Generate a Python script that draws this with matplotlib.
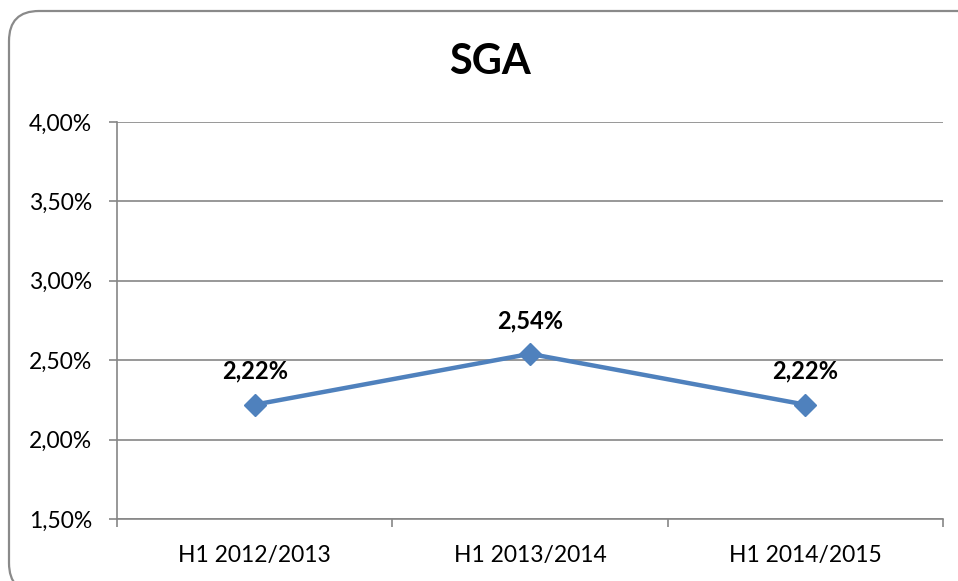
import matplotlib
matplotlib.use("Agg")
import matplotlib.pyplot as plt
from matplotlib.patches import FancyBboxPatch
from matplotlib.ticker import FuncFormatter, FixedLocator
from matplotlib.transforms import IdentityTransform

# chart data
periods = ["H1 2012/2013", "H1 2013/2014", "H1 2014/2015"]
sga = [2.22, 2.54, 2.22]
y_ticks = [1.5, 2.0, 2.5, 3.0, 3.5, 4.0]

plt.rcParams['font.family'] = ['Lato', 'DejaVu Sans']

GRID = '#868686'
LINE = '#4F81BD'


def pct(v, pos=None):
    return f"{v:.2f}%".replace('.', ',')


fig = plt.figure(figsize=(9.58, 5.81), dpi=100)
ax = fig.add_axes([117 / 958, 1 - 519 / 581, 826 / 958, 397 / 581])

# rounded outer frame like the spreadsheet chart area
frame = FancyBboxPatch((9, -12), 985, 581 - 11 + 12, boxstyle="round,pad=0,rounding_size=30",
                       transform=IdentityTransform(), fill=False, edgecolor='#8a8a8a',
                       linewidth=1.6, zorder=0)
fig.patches.append(frame)

x = list(range(len(periods)))
ax.plot(x, sga, color=LINE, linewidth=3.2, marker='D', markersize=11,
        markerfacecolor=LINE, markeredgecolor=LINE, zorder=3)

for xi, v in zip(x, sga):
    ax.annotate(pct(v), (xi, v), xytext=(0, 24), textcoords='offset points',
                ha='center', va='center', fontsize=17, fontweight='bold', color='black')

ax.set_xlim(-0.5, len(periods) - 0.5)
ax.set_ylim(y_ticks[0], y_ticks[-1])
ax.set_yticks(y_ticks)
ax.yaxis.set_major_formatter(FuncFormatter(pct))
ax.grid(axis='y', color=GRID, linewidth=1.2)
ax.set_axisbelow(True)

ax.set_xticks(x)
ax.set_xticklabels(periods)
ax.xaxis.set_minor_locator(FixedLocator([i - 0.5 for i in range(len(periods) + 1)]))
ax.tick_params(axis='x', which='major', length=0, pad=19, labelsize=16.5)
ax.tick_params(axis='x', which='minor', length=6, width=1.2, color=GRID)
ax.tick_params(axis='y', length=6, width=1.2, color=GRID, pad=12, labelsize=16.5)

for side in ['top', 'right']:
    ax.spines[side].set_visible(False)
for side in ['left', 'bottom']:
    ax.spines[side].set_color(GRID)
    ax.spines[side].set_linewidth(1.2)

fig.text(490 / 958, 1 - 62 / 581, "SGA", ha='center', va='center',
         fontsize=30, fontweight='bold')

fig.savefig("out.png", dpi=100)
